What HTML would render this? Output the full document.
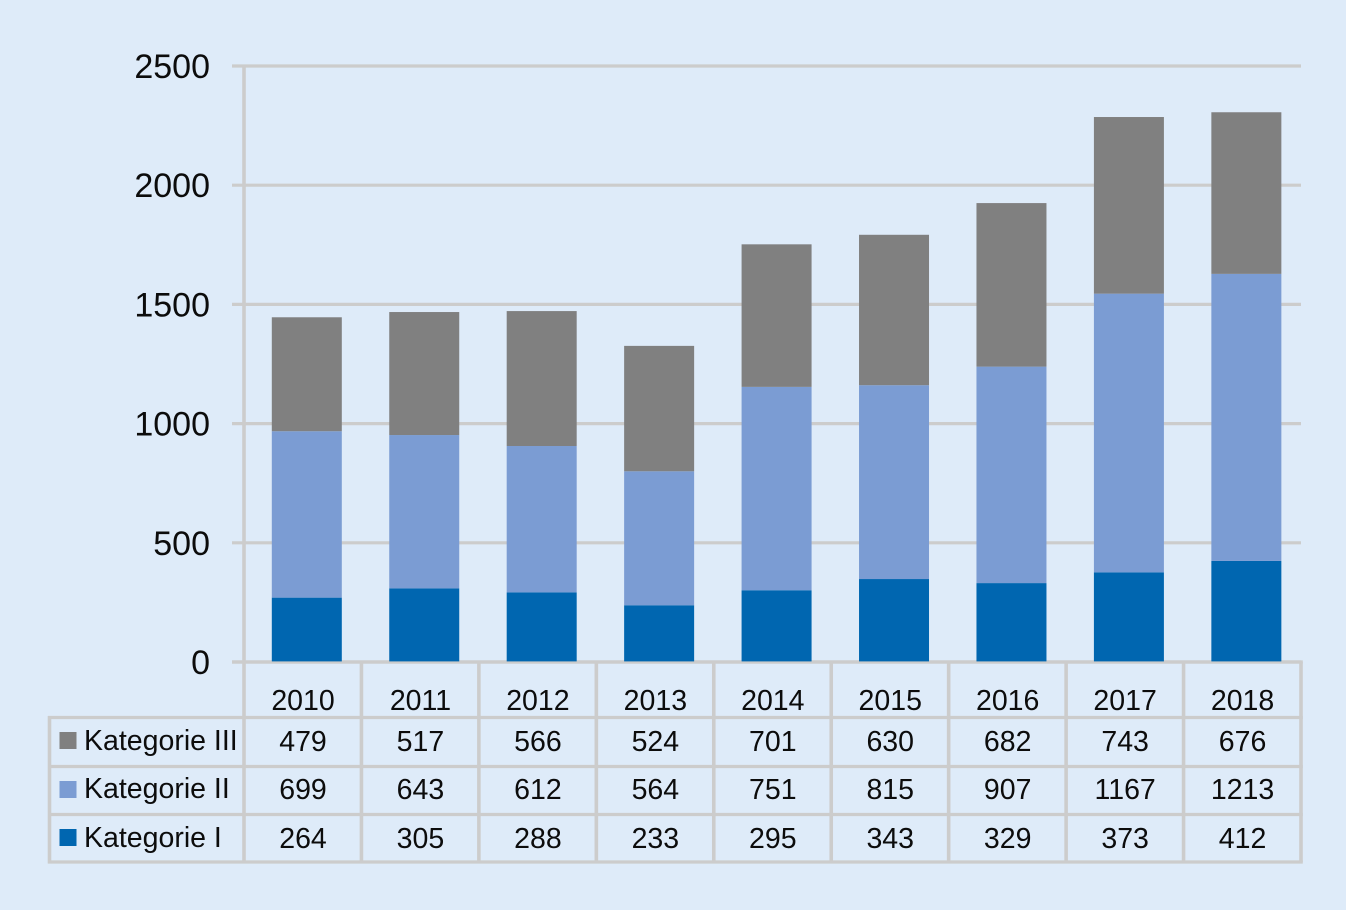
<!DOCTYPE html>
<html lang="de">
<head>
<meta charset="utf-8">
<title>Kategorien 2010–2018</title>
<style>
html,body{margin:0;padding:0;background:#deebf9;}
svg{display:block;}
text{font-family:"Liberation Sans",sans-serif;fill:#0c0c0c;}
</style>
</head>
<body>
<svg id="chart" width="1346" height="910" viewBox="0 0 1346 910" xmlns="http://www.w3.org/2000/svg">
<rect width="1346" height="910" fill="#deebf9"/>
</svg>
<script>
const years = ["2010","2011","2012","2013","2014","2015","2016","2017","2018"];
// heights of the drawn bars
const barsKategorie1 = [270,309,292,238,301,348,331,376,424];
const barsKategorie2 = [698,643,614,562,853,813,908,1169,1204];
const barsKategorie3 = [478,516,566,526,598,631,686,741,678];
// values printed in the data table
const tableKategorie1 = [264,305,288,233,295,343,329,373,412];
const tableKategorie2 = [699,643,612,564,751,815,907,1167,1213];
const tableKategorie3 = [479,517,566,524,701,630,682,743,676];
const yTicks = [0,500,1000,1500,2000,2500];
const seriesNames = ["Kategorie III","Kategorie II","Kategorie I"];

const svg = document.getElementById('chart');
const NS = 'http://www.w3.org/2000/svg';
const GRID = '#cccccc', H_W = 3.2, V_W = 3.6;
const X0 = 244, X1 = 1301, Y0 = 662, Y1 = 66, YMAX = 2500;
const BAND = (X1 - X0) / years.length;
const BAR_W = 70;
const y = v => Y0 - (v / YMAX) * (Y0 - Y1);
const bandLeft = i => X0 + i * BAND;
const bandCenter = i => bandLeft(i) + BAND / 2;
const barLeft = i => bandLeft(i) + 27.8;

function make(tag, attrs, text) {
  const el = document.createElementNS(NS, tag);
  for (const k in attrs) el.setAttribute(k, attrs[k]);
  if (text !== undefined) el.textContent = text;
  svg.appendChild(el);
  return el;
}
function hLine(x1, x2, yy) {
  return make('line', {x1, y1: yy, x2, y2: yy, stroke: GRID, 'stroke-width': H_W});
}
function vLine(xx, y1, y2) {
  return make('line', {x1: xx, y1, x2: xx, y2, stroke: GRID, 'stroke-width': V_W});
}

// y axis gridlines, ticks and labels
yTicks.forEach(t => {
  const line = hLine(232, X1, y(t));
  
  
  const label = make('text', {x: 210, y: y(t) + 12, 'text-anchor': 'end', 'font-size': 34}, String(t));
  
  
});

// y axis line
const yAxis = vLine(X0, Y1, 862);



// table lines
const rowLines = [717.5, 766.5, 814.5, 862];
rowLines.forEach((ry, i) => {
  const rl = hLine(48, X1 + 1.8, ry);
  
  
});
const leftEdge = vLine(49.5, 716, 863.5);


years.forEach((yr, i) => {
  const vl = vLine(bandLeft(i + 1), Y0, 862);
  
  
});
const axisBase = hLine(232, X1 + 1.8, Y0);



// stacked bars
const seriesStack = [
  {key: 'kategorie-i', values: barsKategorie1, color: '#0066b0'},
  {key: 'kategorie-ii', values: barsKategorie2, color: '#7b9cd3'},
  {key: 'kategorie-iii', values: barsKategorie3, color: '#808080'}
];
years.forEach((yr, i) => {
  let base = 0;
  seriesStack.forEach(s => {
    const v = s.values[i];
    const bottom = base === 0 ? y(0) - 0.6 : y(base);
    const bar = make('rect', {x: barLeft(i), y: y(base + v), width: BAR_W, height: bottom - y(base + v), fill: s.color});
    
    
    base += v;
  });
});

// year labels
years.forEach((yr, i) => {
  const t = make('text', {x: bandCenter(i) + 0.3, y: 710, 'text-anchor': 'middle', 'font-size': 28.5}, yr);
  
  
});

// table rows
const tableRows = [
  {values: tableKategorie3, color: '#808080', baseline: 751, swatch: 732},
  {values: tableKategorie2, color: '#7b9cd3', baseline: 799, swatch: 781},
  {values: tableKategorie1, color: '#0066b0', baseline: 848, swatch: 829}
];
tableRows.forEach((row, r) => {
  const sw = make('rect', {x: 59.5, y: row.swatch, width: 17, height: 17, fill: row.color});
  
  
  const name = make('text', {x: 84, y: row.baseline - 1, 'font-size': 28.5}, seriesNames[r]);
  
  
  row.values.forEach((v, i) => {
    const cell = make('text', {x: bandCenter(i) + 0.3, y: row.baseline, 'text-anchor': 'middle', 'font-size': 28.5}, String(v));
    
    
  });
});
</script>
</body>
</html>
